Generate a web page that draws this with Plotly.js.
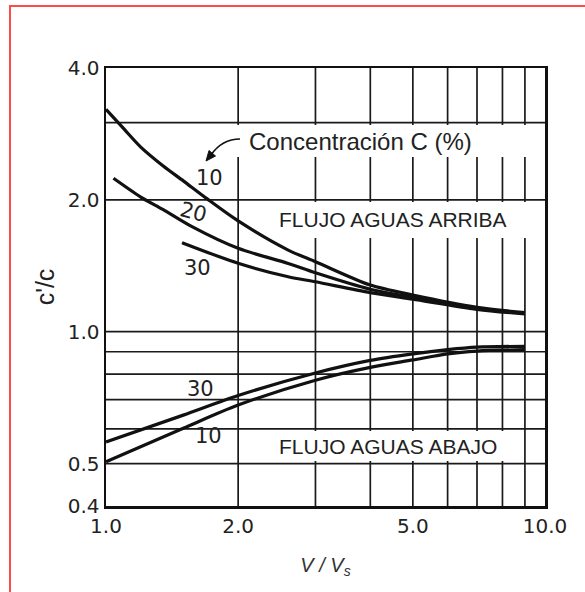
<!DOCTYPE html>
<html>
<head>
<meta charset="utf-8">
<script src="https://cdn.plot.ly/plotly-3.0.1.min.js"></script>
<style>
  html, body { margin: 0; padding: 0; background: #fff; }
  #wrap { position: relative; width: 585px; height: 592px; overflow: hidden; }
  #chart { position: absolute; left: 0; top: 0; width: 585px; height: 592px; }
  #frame { position: absolute; left: 9px; top: 5px; width: 600px; height: 600px;
           border-left: 2px solid #ff4a4a; border-top: 2px solid #ff4a4a;
           pointer-events: none; z-index: 10; }
</style>
</head>
<body>
<div id="wrap">
  <div id="chart"></div>
  <div id="frame"></div>
</div>
<script>
// ---- Data ----
// Upstream flow (FLUJO AGUAS ARRIBA), concentration C = 10, 20, 30 %
const xUp10 = [1.0, 1.1, 1.2, 1.35, 1.5, 1.7, 2.0, 2.6, 3.0, 4.0, 5.0, 7.0, 9.0];
const yUp10 = [3.22, 2.90, 2.64, 2.39, 2.21, 2.01, 1.79, 1.536, 1.445, 1.278, 1.213, 1.137, 1.105];

const xUp20 = [1.04, 1.2, 1.35, 1.57, 2.0, 2.6, 3.0, 4.0, 5.0, 7.0, 9.0];
const yUp20 = [2.24, 2.03, 1.90, 1.737, 1.55, 1.432, 1.363, 1.25, 1.198, 1.131, 1.101];

const xUp30 = [1.49, 2.0, 2.6, 3.0, 4.0, 5.0, 7.0, 9.0];
const yUp30 = [1.597, 1.433, 1.335, 1.30, 1.228, 1.186, 1.125, 1.098];

// Downstream flow (FLUJO AGUAS ABAJO), C = 30 and 10 %
const xDn30 = [1.0, 1.5, 2.0, 3.0, 4.0, 5.0, 6.0, 7.0, 9.0];
const yDn30 = [0.56, 0.645, 0.715, 0.805, 0.86, 0.89, 0.91, 0.922, 0.926];

const xDn10 = [1.0, 1.5, 2.0, 3.0, 4.0, 5.0, 6.0, 7.0, 9.0];
const yDn10 = [0.505, 0.602, 0.68, 0.775, 0.829, 0.862, 0.89, 0.903, 0.91];

// Axis ticks / grid
const xTickVals = [1, 2, 5, 10];
const xTickText = ["1.0", "2.0", "5.0", "10.0"];
const yTickVals = [0.4, 0.5, 1.0, 2.0, 4.0];
const yTickText = ["0.4", "0.5", "1.0", "2.0", "4.0"];
const xGridVals = [2, 3, 4, 5, 6, 7, 8, 9];
const yGridVals = [0.5, 0.6, 0.7, 0.8, 0.9, 1.0, 2.0, 3.0];

// Texts
const curveLabels = ["10", "20", "30", "30", "10"];
const legendTitle = "Concentración C (%)";
const upText = "FLUJO AGUAS ARRIBA";
const downText = "FLUJO AGUAS ABAJO";
const xTitle = "V / V<sub>s</sub>";
const yTitle = "c'/c";

// ---- Plot ----
const X_RANGE = [0, 1];
const Y_RANGE = [Math.log10(0.4), Math.log10(4)];

const lineStyle = {color: '#111', width: 3.2, shape: 'spline', smoothing: 0.8};
function tr(x, y, name) {
  return {x: x, y: y, type: 'scatter', mode: 'lines', name: name,
          line: lineStyle, hoverinfo: 'skip', showlegend: false};
}
const data = [
  tr(xUp10, yUp10, 'Arriba 10%'),
  tr(xUp20, yUp20, 'Arriba 20%'),
  tr(xUp30, yUp30, 'Arriba 30%'),
  tr(xDn30, yDn30, 'Abajo 30%'),
  tr(xDn10, yDn10, 'Abajo 10%')
];

const tickFont = {family: 'DejaVu Sans, sans-serif', size: 20, color: '#222'};
const numFont = {family: 'DejaVu Sans, sans-serif', size: 21, color: '#222'};
const txtFont = {family: 'Liberation Sans, Arial, sans-serif', size: 21, color: '#222'};

// pixel -> paper helpers for layout decoration (plot area 106..545 x 68..506)
const W = 439, H = 438, L = 106, T = 68;
function px(x) { return (x - L) / W; }
function py(y) { return (T + H - y) / H; }
// data value -> paper fraction on the log axes
function xp(v) { return (Math.log10(v) - X_RANGE[0]) / (X_RANGE[1] - X_RANGE[0]); }
function yp(v) { return (Math.log10(v) - Y_RANGE[0]) / (Y_RANGE[1] - Y_RANGE[0]); }

const gridLine = {color: '#1a1a1a', width: 1.7};
const shapes = [];
xGridVals.forEach(v => shapes.push({type: 'line', xref: 'paper', yref: 'paper', layer: 'below',
  x0: xp(v), x1: xp(v), y0: 0, y1: 1, line: gridLine}));
yGridVals.forEach(v => shapes.push({type: 'line', xref: 'paper', yref: 'paper', layer: 'below',
  x0: 0, x1: 1, y0: yp(v), y1: yp(v), line: gridLine}));
// white gaps in the grid behind the texts (drawn after grid, below the curves)
function gap(x0, x1, y0, y1) {
  shapes.push({type: 'rect', xref: 'paper', yref: 'paper', layer: 'below',
    x0: px(x0), x1: px(x1), y0: py(y1), y1: py(y0), fillcolor: '#fff', line: {width: 0}});
}
gap(231, 545, 125, 157);
gap(242, 545, 202, 238);
gap(242, 521, 431, 461);

// arrow pointing to curve labels (hooked shaft + head)
function P(x, y) { return px(x) + ',' + py(y); }
shapes.push({type: 'path', xref: 'paper', yref: 'paper', layer: 'above',
  path: 'M ' + P(240, 139) + ' Q ' + P(222, 139) + ' ' + P(211, 155),
  line: {color: '#111', width: 1.6}});
shapes.push({type: 'path', xref: 'paper', yref: 'paper', layer: 'above',
  path: 'M ' + P(206, 161) + ' L ' + P(215.5, 156) + ' L ' + P(209, 150.5) + ' Z',
  fillcolor: '#111', line: {color: '#111', width: 1}});

function ann(x, y, text, font, extra) {
  return Object.assign({xref: 'paper', yref: 'paper', x: px(x), y: py(y), text: text,
    showarrow: false, xanchor: 'center', yanchor: 'middle', font: font}, extra || {});
}

const layout = {
  width: 585, height: 592,
  margin: {l: 106, r: 40, t: 68, b: 86},
  paper_bgcolor: '#fff', plot_bgcolor: '#fff',
  showlegend: false,
  xaxis: {
    type: 'log', range: X_RANGE,
    tickvals: xTickVals, ticktext: xTickText,
    ticks: '', ticklen: 0, tickfont: tickFont,
    showgrid: false,
    showline: true, mirror: true, linecolor: '#111', linewidth: 2.5,
    zeroline: false, fixedrange: true,
    title: {text: xTitle, standoff: 22,
            font: {family: 'Liberation Sans, Arial, sans-serif', size: 20, color: '#333', style: 'italic'}}
  },
  yaxis: {
    type: 'log', range: Y_RANGE,
    tickvals: yTickVals, ticktext: yTickText,
    ticks: '', ticklen: 0, tickfont: tickFont,
    showgrid: false,
    showline: true, mirror: true, linecolor: '#111', linewidth: 2.5,
    zeroline: false, fixedrange: true,
    title: {text: yTitle, standoff: 6,
            font: {family: 'Liberation Sans, Arial, sans-serif', size: 25, color: '#222'}}
  },
  shapes: shapes,
  annotations: [
    ann(360, 141, legendTitle, {family: 'Liberation Sans, Arial, sans-serif', size: 24, color: '#222'}),
    ann(393, 219, upText, txtFont),
    ann(388, 446, downText, txtFont),
    ann(209, 178, curveLabels[0], numFont),
    ann(193, 212, curveLabels[1], numFont, {textangle: 15}),
    ann(197, 268, curveLabels[2], numFont),
    ann(200, 389, curveLabels[3], numFont),
    ann(208, 436, curveLabels[4], numFont)
  ]
};

Plotly.newPlot('chart', data, layout, {displayModeBar: false, staticPlot: true});
</script>
</body>
</html>
